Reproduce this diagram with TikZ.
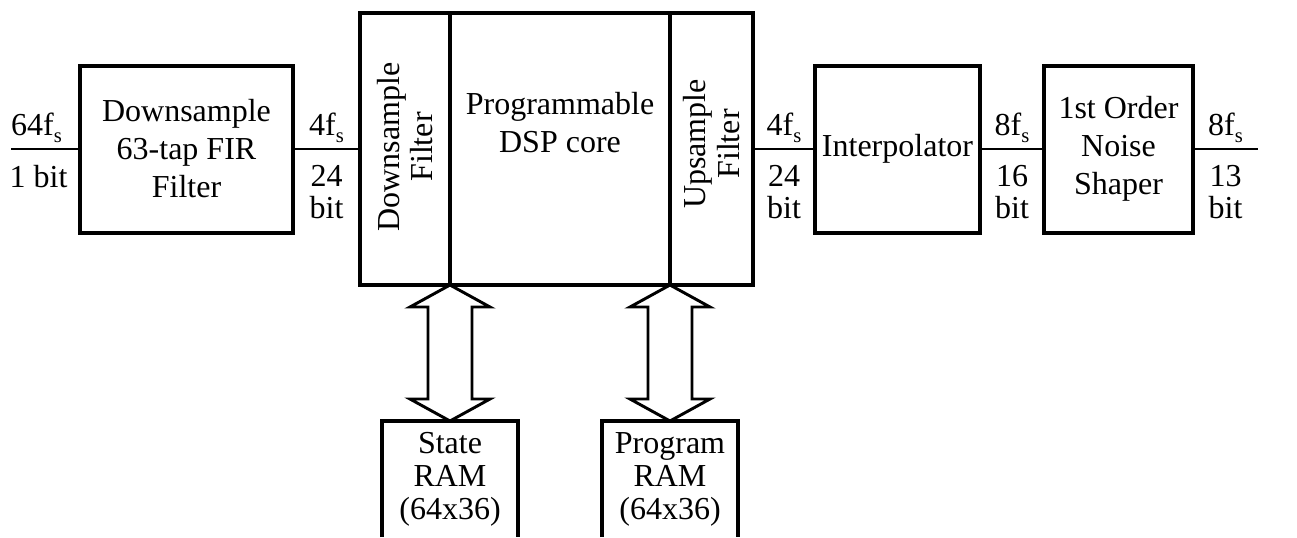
\documentclass[tikz,border=0pt]{standalone}
\usepackage{fontspec}
\setmainfont{Liberation Serif}
\usetikzlibrary{calc}
\tikzset{
  blk/.style 2 args={draw,line width=3pt,outer sep=0pt,inner sep=0pt,
    minimum width=#1*0.75pt,minimum height=#2*0.75pt,align=center},
  txt/.style={inner sep=0pt,align=center},
  ram/.style={inner sep=0pt,outer sep=0pt,align=center,
    minimum width=102pt,minimum height=87pt,font=\fontsize{24}{24.75}\selectfont},
  edge/.style={line width=3pt},
  sig/.style={line width=2pt},
  bus/.style={line width=2.2pt,line join=miter},
  rup/.style={inner sep=0pt,anchor=base,yshift=10.5pt},
  rdn/.style={inner sep=0pt,anchor=north,yshift=-11.25pt,align=center,
    font=\fontsize{24}{24}\selectfont}
}
% sampling rate with a lowered s
\newcommand{\smp}[1]{#1f\raisebox{-5.25pt}{\fontsize{15.5}{15.5}\selectfont s}}
% hollow two-way bus between #1 (top) and #2 (bottom)
\newcommand{\ramlink}[2]{%
  \draw[bus] (#1) -- ($(#1)+(40,22)$) -- ($(#1)+(22,22)$) -- ($(#2)+(22,-22)$)
    -- ($(#2)+(40,-22)$) -- (#2) -- ($(#2)+(-40,-22)$) -- ($(#2)+(-22,-22)$)
    -- ($(#1)+(-22,22)$) -- ($(#1)+(-40,22)$) -- cycle;}

\begin{document}
\begin{tikzpicture}[x=0.75pt,y=-0.75pt,font=\fontsize{24}{28.5}\selectfont]
\useasboundingbox (0,0) rectangle (1297,537);
\clip (0,0) rectangle (1297,537);
% processing chain
\node[blk={213}{167}] (fir) at (186.5,149) {Downsample\\63-tap FIR\\Filter};
\node[blk={90}{272}] (dsfilt) at (405,149) {};
\node[blk={220}{272}] (core) at (560,149) {};
\node[blk={83}{272}] (usfilt) at (711.5,149) {};
\node[blk={165}{167}] (interp) at (897.5,149) {Interpolator};
\node[blk={149}{167}] (shaper) at (1118.5,149) {1st Order\\Noise\\Shaper};
% texts inside the DSP block
\node[txt,rotate=90,font=\fontsize{24}{25}\selectfont] (dslbl)
  at ($(dsfilt.center)+(0,-2)$) {Downsample\\Filter};
\node[txt,anchor=north] (corelbl) at ($(core.north)+(0,79)$) {Programmable\\DSP core};
\node[txt,rotate=90,font=\fontsize{24}{25}\selectfont] (uslbl)
  at ($(usfilt.center)+(0,-5)$) {Upsample\\Filter};
% memories below the core
\node[ram] (sram) at (450,479) {State\\RAM\\(64x36)};
\node[ram] (pram) at (670,479) {Program\\RAM\\(64x36)};
\foreach \r in {sram,pram}
  \draw[edge] (\r.south west) -- (\r.north west) -- (\r.north east) -- (\r.south east);
\ramlink{dsfilt.south east}{sram.north}
\ramlink{usfilt.south west}{pram.north}
% signal lines
\coordinate (in) at (11,149);
\coordinate (out) at (1258,149);
\draw[sig] (in) -- node[rup,pos=0.37] (inrate) {\smp{64}}
  node[rdn,pos=0.4] (inbits) {1 bit} (fir);
\draw[sig] (fir) -- node[rup] (firrate) {\smp{4}} node[rdn] (firbits) {24\\bit} (dsfilt);
\draw[sig] (usfilt) -- node[rup] (usrate) {\smp{4}} node[rdn] (usbits) {24\\bit} (interp);
\draw[sig] (interp) -- node[rup] (iprate) {\smp{8}} node[rdn] (ipbits) {16\\bit} (shaper);
\draw[sig] (shaper) -- node[rup] (nsrate) {\smp{8}} node[rdn] (nsbits) {13\\bit} (out);
\end{tikzpicture}
\end{document}
